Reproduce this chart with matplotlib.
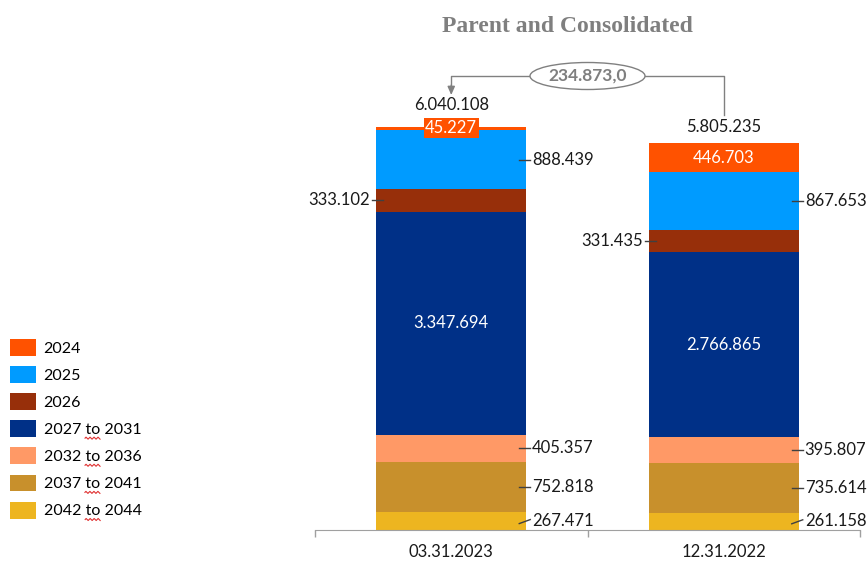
import numpy as np
import matplotlib
matplotlib.use("Agg")
import matplotlib.pyplot as plt
from matplotlib.patches import Ellipse
from matplotlib.lines import Line2D
from matplotlib.transforms import IdentityTransform

plt.rcParams['font.family'] = ['Lato', 'DejaVu Sans']

# ---- data -------------------------------------------------------------
dates = ["03.31.2023", "12.31.2022"]
series_names = ["2042 to 2044", "2037 to 2041", "2032 to 2036", "2027 to 2031",
                "2026", "2025", "2024"]
v_2042_2044 = [267471, 261158]
v_2037_2041 = [752818, 735614]
v_2032_2036 = [405357, 395807]
v_2027_2031 = [3347694, 2766865]
v_2026 = [333102, 331435]
v_2025 = [888439, 867653]
v_2024 = [45227, 446703]
series_values = [v_2042_2044, v_2037_2041, v_2032_2036, v_2027_2031,
                 v_2026, v_2025, v_2024]
colors = ["#EDB520", "#C8902C", "#FF9966", "#003087", "#972F0A", "#009BFF", "#FF5200"]
title = "Parent and Consolidated"

# label placement for each series, per bar
placement = [["right", "right"], ["right", "right"], ["right", "right"],
             ["in", "in"], ["left", "left"], ["right", "right"], ["box", "in"]]

FS = 12


def fmt(v):
    return f"{v:,}".replace(",", ".")


W, H = 867, 561
fig = plt.figure(figsize=(W / 100, H / 100), dpi=100)
ax_l, ax_r, ax_b, ax_t = 315, 860, 530, 0
ax = fig.add_axes([ax_l / W, (H - ax_b) / H, (ax_r - ax_l) / W, (ax_b - ax_t) / H])

totals = np.sum(np.array(series_values), axis=0)
px_per_unit = 403 / totals[0]
ymax = (ax_b - ax_t) / px_per_unit
ax.set_xlim(-0.5, 1.5)
ax.set_ylim(0, ymax)
dx = 2 / (ax_r - ax_l)      # data units per pixel, x
dy = ymax / (ax_b - ax_t)   # data units per pixel, y

x = np.arange(len(dates))
bar_w = 150 * dx
bottom = np.zeros(len(dates))
bars = []
for name, vals, col in zip(series_names, series_values, colors):
    b = ax.bar(x, vals, bar_w, bottom=bottom, color=col, label=name,
               linewidth=0, zorder=2)
    bars.append(b)
    vals = np.array(vals)
    for i in range(len(dates)):
        mid = bottom[i] + vals[i] / 2
        side = placement[series_names.index(name)][i]
        txt = fmt(int(vals[i]))
        right_edge = x[i] + bar_w / 2
        left_edge = x[i] - bar_w / 2
        if side == "in":
            ax.text(x[i], mid, txt, color="white", ha="center", va="center",
                    fontsize=FS, zorder=4)
        elif side == "box":
            top = bottom[i] + vals[i]
            ax.text(x[i], top - 1 * dy, txt, color="white", ha="center", va="center",
                    fontsize=FS, zorder=4,
                    bbox=dict(boxstyle="square,pad=0.1", fc=col, ec="none"))
        elif side == "right":
            slant = 2.5 * dy if name == "2042 to 2044" else 0
            ax.plot([right_edge - 7 * dx, right_edge + 4 * dx],
                    [mid - slant, mid + slant * 0.6], color="#404040", lw=1,
                    zorder=3, clip_on=False)
            ax.text(right_edge + 6 * dx, mid, txt, color="#1a1a1a", ha="left",
                    va="center", fontsize=FS, zorder=4)
        elif side == "left":
            ax.plot([left_edge - 4 * dx, left_edge + 7 * dx], [mid, mid],
                    color="#404040", lw=1, zorder=3, clip_on=False)
            ax.text(left_edge - 6 * dx, mid, txt, color="#1a1a1a", ha="right",
                    va="center", fontsize=FS, zorder=4)
    bottom = bottom + vals

# totals above the bars
total_gap = [14, 8]
for i in range(len(dates)):
    ax.text(x[i], totals[i] + total_gap[i] * dy, fmt(int(totals[i])),
            ha="center", va="bottom", fontsize=FS, color="#1a1a1a")

# difference bracket between the two totals
diff = totals[0] - totals[1]
y_br = ymax - 76 * dy
xm = (x[0] + x[1]) / 2
ell_w, ell_h = 115 * dx, 27 * dy
ax.plot([xm + ell_w / 2, x[1], x[1]], [y_br, y_br, totals[1] + 28 * dy],
        color="#808080", lw=1, clip_on=False, zorder=3)
ax.plot([xm - ell_w / 2, x[0], x[0]], [y_br, y_br, y_br - 10 * dy],
        color="#808080", lw=1, clip_on=False, zorder=3)
ax.annotate("", xy=(x[0], totals[0] + 32 * dy), xytext=(x[0], y_br - 9 * dy),
            arrowprops=dict(arrowstyle="-|>,head_length=0.5,head_width=0.22",
                            color="#808080", lw=1, shrinkA=0, shrinkB=0),
            annotation_clip=False)
ax.add_patch(Ellipse((xm, y_br), ell_w, ell_h, fc="white", ec="#808080",
                     lw=1, zorder=4, clip_on=False))
ax.text(xm, y_br, f"{diff:,}".replace(",", ".") + ",0", ha="center", va="center",
        fontsize=12.5, fontweight="bold", color="#7F7F7F", zorder=5)

# title
fig.text(567 / W, 1 - 27 / H, title, ha="center", va="center",
         fontsize=17, fontweight="bold", color="#7F7F7F",
         family="Liberation Serif")

# axes styling
for s in ["top", "right", "left"]:
    ax.spines[s].set_visible(False)
ax.spines["bottom"].set_color("#A0A0A0")
ax.set_yticks([])
ax.set_xticks([-0.5, 0.5, 1.5])
ax.set_xticklabels([])
ax.tick_params(axis="x", which="major", length=5, color="#A0A0A0", width=1)
ax.set_xticks(x, minor=True)
ax.set_xticklabels(dates, minor=True, fontsize=FS, color="#1a1a1a")
ax.tick_params(axis="x", which="minor", length=0, pad=10)

# legend
handles = [b[0] for b in bars][::-1]
labels = series_names[::-1]
leg = fig.legend(handles, labels, loc="upper left",
                 bbox_to_anchor=(10 / W, 1 - 339 / H), frameon=False,
                 fontsize=11.5, handlelength=1.65, handleheight=1.25,
                 handletextpad=0.45, labelspacing=0.64, borderaxespad=0,
                 borderpad=0)

# spell-check style squiggles under "to"
fig.canvas.draw()
renderer = fig.canvas.get_renderer()
for t in leg.get_texts():
    s = t.get_text()
    if " to " in s:
        bb = t.get_window_extent(renderer)
        fp = t.get_fontproperties()
        pre_w, _, _ = renderer.get_text_width_height_descent(s[:s.index("to")], fp, ismath=False)
        to_w, _, _ = renderer.get_text_width_height_descent("to", fp, ismath=False)
        x0 = bb.x0 + pre_w
        xs = np.arange(x0, x0 + to_w + 0.5, 1.0)
        ys = bb.y0 - 1 + 1.0 * np.sin((xs - x0) * np.pi / 2)
        fig.add_artist(Line2D(xs, ys, color="#E03030", lw=0.8,
                              transform=IdentityTransform()))

fig.savefig("out.png", dpi=100)
